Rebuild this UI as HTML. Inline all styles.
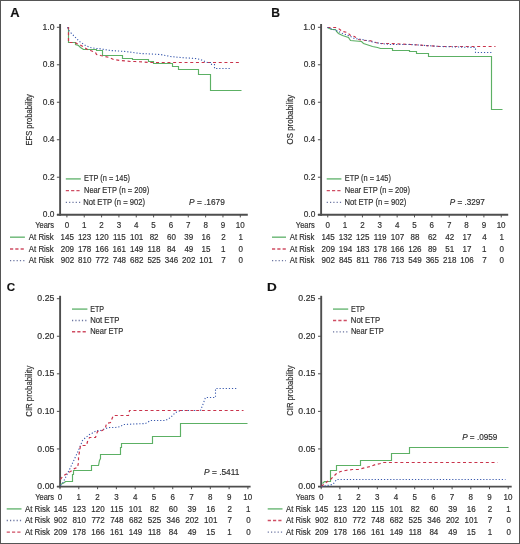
<!DOCTYPE html>
<html><head><meta charset="utf-8"><style>
html,body{margin:0;padding:0;background:#fff;}
body{width:520px;height:544px;overflow:hidden;}
svg{display:block;}
svg{will-change:transform;}
text{font-family:"Liberation Sans",sans-serif;stroke:#303030;stroke-width:0.18px;}
</style></head><body>
<svg width="520" height="544" viewBox="0 0 520 544">
<rect x="0" y="0" width="520" height="544" fill="#fff"/>
<text x="10.29" y="16.50" font-size="12" textLength="9.35" lengthAdjust="spacingAndGlyphs" fill="#111" font-weight="bold">A</text>
<line x1="60.10" y1="24.00" x2="60.10" y2="215.75" stroke="#4e4e4e" stroke-width="1.9"/>
<line x1="56.90" y1="214.80" x2="247.80" y2="214.80" stroke="#4e4e4e" stroke-width="1.9"/>
<line x1="56.90" y1="27.30" x2="60.10" y2="27.30" stroke="#4e4e4e" stroke-width="1"/>
<text x="42.54" y="29.90" font-size="8.4" textLength="11.98" lengthAdjust="spacingAndGlyphs" fill="#303030">1.0</text>
<line x1="56.90" y1="64.78" x2="60.10" y2="64.78" stroke="#4e4e4e" stroke-width="1"/>
<text x="42.87" y="67.38" font-size="8.4" textLength="11.69" lengthAdjust="spacingAndGlyphs" fill="#303030">0.8</text>
<line x1="56.90" y1="102.26" x2="60.10" y2="102.26" stroke="#4e4e4e" stroke-width="1"/>
<text x="42.87" y="104.86" font-size="8.4" textLength="11.69" lengthAdjust="spacingAndGlyphs" fill="#303030">0.6</text>
<line x1="56.90" y1="139.74" x2="60.10" y2="139.74" stroke="#4e4e4e" stroke-width="1"/>
<text x="42.88" y="142.34" font-size="8.4" textLength="11.57" lengthAdjust="spacingAndGlyphs" fill="#303030">0.4</text>
<line x1="56.90" y1="177.22" x2="60.10" y2="177.22" stroke="#4e4e4e" stroke-width="1"/>
<text x="42.87" y="179.82" font-size="8.4" textLength="11.75" lengthAdjust="spacingAndGlyphs" fill="#303030">0.2</text>
<line x1="56.90" y1="214.70" x2="60.10" y2="214.70" stroke="#4e4e4e" stroke-width="1"/>
<text x="42.87" y="217.30" font-size="8.4" textLength="11.65" lengthAdjust="spacingAndGlyphs" fill="#303030">0.0</text>
<line x1="66.90" y1="214.80" x2="66.90" y2="217.40" stroke="#4e4e4e" stroke-width="1"/>
<text x="64.67" y="227.60" font-size="8.4" textLength="4.46" lengthAdjust="spacingAndGlyphs" fill="#303030">0</text>
<line x1="84.24" y1="214.80" x2="84.24" y2="217.40" stroke="#4e4e4e" stroke-width="1"/>
<text x="81.90" y="227.60" font-size="8.4" textLength="4.46" lengthAdjust="spacingAndGlyphs" fill="#303030">1</text>
<line x1="101.58" y1="214.80" x2="101.58" y2="217.40" stroke="#4e4e4e" stroke-width="1"/>
<text x="99.35" y="227.60" font-size="8.4" textLength="4.46" lengthAdjust="spacingAndGlyphs" fill="#303030">2</text>
<line x1="118.92" y1="214.80" x2="118.92" y2="217.40" stroke="#4e4e4e" stroke-width="1"/>
<text x="116.71" y="227.60" font-size="8.4" textLength="4.46" lengthAdjust="spacingAndGlyphs" fill="#303030">3</text>
<line x1="136.26" y1="214.80" x2="136.26" y2="217.40" stroke="#4e4e4e" stroke-width="1"/>
<text x="134.06" y="227.60" font-size="8.4" textLength="4.46" lengthAdjust="spacingAndGlyphs" fill="#303030">4</text>
<line x1="153.60" y1="214.80" x2="153.60" y2="217.40" stroke="#4e4e4e" stroke-width="1"/>
<text x="151.37" y="227.60" font-size="8.4" textLength="4.46" lengthAdjust="spacingAndGlyphs" fill="#303030">5</text>
<line x1="170.94" y1="214.80" x2="170.94" y2="217.40" stroke="#4e4e4e" stroke-width="1"/>
<text x="168.68" y="227.60" font-size="8.4" textLength="4.46" lengthAdjust="spacingAndGlyphs" fill="#303030">6</text>
<line x1="188.28" y1="214.80" x2="188.28" y2="217.40" stroke="#4e4e4e" stroke-width="1"/>
<text x="186.05" y="227.60" font-size="8.4" textLength="4.46" lengthAdjust="spacingAndGlyphs" fill="#303030">7</text>
<line x1="205.62" y1="214.80" x2="205.62" y2="217.40" stroke="#4e4e4e" stroke-width="1"/>
<text x="203.39" y="227.60" font-size="8.4" textLength="4.46" lengthAdjust="spacingAndGlyphs" fill="#303030">8</text>
<line x1="222.96" y1="214.80" x2="222.96" y2="217.40" stroke="#4e4e4e" stroke-width="1"/>
<text x="220.73" y="227.60" font-size="8.4" textLength="4.46" lengthAdjust="spacingAndGlyphs" fill="#303030">9</text>
<line x1="240.30" y1="214.80" x2="240.30" y2="217.40" stroke="#4e4e4e" stroke-width="1"/>
<text x="235.69" y="227.60" font-size="8.4" textLength="8.92" lengthAdjust="spacingAndGlyphs" fill="#303030">10</text>
<text x="35.24" y="227.60" font-size="8.4" textLength="18.83" lengthAdjust="spacingAndGlyphs" fill="#303030">Years</text>
<line x1="10.00" y1="237.20" x2="24.90" y2="237.20" stroke="#72bb7c" stroke-width="1.5" fill="none"/>
<text x="28.78" y="239.80" font-size="8.4" textLength="25.00" lengthAdjust="spacingAndGlyphs" fill="#303030">At Risk</text>
<text x="60.57" y="239.80" font-size="8.4" textLength="13.38" lengthAdjust="spacingAndGlyphs" fill="#303030">145</text>
<text x="77.92" y="239.80" font-size="8.4" textLength="13.38" lengthAdjust="spacingAndGlyphs" fill="#303030">123</text>
<text x="95.24" y="239.80" font-size="8.4" textLength="13.38" lengthAdjust="spacingAndGlyphs" fill="#303030">120</text>
<text x="112.89" y="239.80" font-size="8.4" textLength="12.79" lengthAdjust="spacingAndGlyphs" fill="#303030">115</text>
<text x="129.96" y="239.80" font-size="8.4" textLength="13.38" lengthAdjust="spacingAndGlyphs" fill="#303030">101</text>
<text x="149.67" y="239.80" font-size="8.4" textLength="8.92" lengthAdjust="spacingAndGlyphs" fill="#303030">82</text>
<text x="166.93" y="239.80" font-size="8.4" textLength="8.92" lengthAdjust="spacingAndGlyphs" fill="#303030">60</text>
<text x="184.36" y="239.80" font-size="8.4" textLength="8.92" lengthAdjust="spacingAndGlyphs" fill="#303030">39</text>
<text x="201.53" y="239.80" font-size="8.4" textLength="8.92" lengthAdjust="spacingAndGlyphs" fill="#303030">16</text>
<text x="221.23" y="239.80" font-size="8.4" textLength="4.46" lengthAdjust="spacingAndGlyphs" fill="#303030">2</text>
<text x="238.46" y="239.80" font-size="8.4" textLength="4.46" lengthAdjust="spacingAndGlyphs" fill="#303030">1</text>
<line x1="10.00" y1="249.00" x2="24.90" y2="249.00" stroke="#cf4d63" stroke-width="1.4" fill="none" stroke-dasharray="3.2 2.1"/>
<text x="28.78" y="251.60" font-size="8.4" textLength="25.00" lengthAdjust="spacingAndGlyphs" fill="#303030">At Risk</text>
<text x="60.70" y="251.60" font-size="8.4" textLength="13.38" lengthAdjust="spacingAndGlyphs" fill="#303030">209</text>
<text x="77.92" y="251.60" font-size="8.4" textLength="13.38" lengthAdjust="spacingAndGlyphs" fill="#303030">178</text>
<text x="95.26" y="251.60" font-size="8.4" textLength="13.38" lengthAdjust="spacingAndGlyphs" fill="#303030">166</text>
<text x="112.62" y="251.60" font-size="8.4" textLength="13.38" lengthAdjust="spacingAndGlyphs" fill="#303030">161</text>
<text x="129.95" y="251.60" font-size="8.4" textLength="13.38" lengthAdjust="spacingAndGlyphs" fill="#303030">149</text>
<text x="147.57" y="251.60" font-size="8.4" textLength="12.79" lengthAdjust="spacingAndGlyphs" fill="#303030">118</text>
<text x="166.92" y="251.60" font-size="8.4" textLength="8.92" lengthAdjust="spacingAndGlyphs" fill="#303030">84</text>
<text x="184.42" y="251.60" font-size="8.4" textLength="8.92" lengthAdjust="spacingAndGlyphs" fill="#303030">49</text>
<text x="201.52" y="251.60" font-size="8.4" textLength="8.92" lengthAdjust="spacingAndGlyphs" fill="#303030">15</text>
<text x="221.12" y="251.60" font-size="8.4" textLength="4.46" lengthAdjust="spacingAndGlyphs" fill="#303030">1</text>
<text x="238.57" y="251.60" font-size="8.4" textLength="4.46" lengthAdjust="spacingAndGlyphs" fill="#303030">0</text>
<line x1="10.00" y1="260.70" x2="24.90" y2="260.70" stroke="#6a74a0" stroke-width="1.3" fill="none" stroke-dasharray="1.2 2.1"/>
<text x="28.78" y="263.30" font-size="8.4" textLength="25.00" lengthAdjust="spacingAndGlyphs" fill="#303030">At Risk</text>
<text x="60.73" y="263.30" font-size="8.4" textLength="13.38" lengthAdjust="spacingAndGlyphs" fill="#303030">902</text>
<text x="78.03" y="263.30" font-size="8.4" textLength="13.38" lengthAdjust="spacingAndGlyphs" fill="#303030">810</text>
<text x="95.39" y="263.30" font-size="8.4" textLength="13.38" lengthAdjust="spacingAndGlyphs" fill="#303030">772</text>
<text x="112.70" y="263.30" font-size="8.4" textLength="13.38" lengthAdjust="spacingAndGlyphs" fill="#303030">748</text>
<text x="130.07" y="263.30" font-size="8.4" textLength="13.38" lengthAdjust="spacingAndGlyphs" fill="#303030">682</text>
<text x="147.41" y="263.30" font-size="8.4" textLength="13.38" lengthAdjust="spacingAndGlyphs" fill="#303030">525</text>
<text x="164.77" y="263.30" font-size="8.4" textLength="13.38" lengthAdjust="spacingAndGlyphs" fill="#303030">346</text>
<text x="182.09" y="263.30" font-size="8.4" textLength="13.38" lengthAdjust="spacingAndGlyphs" fill="#303030">202</text>
<text x="199.32" y="263.30" font-size="8.4" textLength="13.38" lengthAdjust="spacingAndGlyphs" fill="#303030">101</text>
<text x="221.23" y="263.30" font-size="8.4" textLength="4.46" lengthAdjust="spacingAndGlyphs" fill="#303030">7</text>
<text x="238.57" y="263.30" font-size="8.4" textLength="4.46" lengthAdjust="spacingAndGlyphs" fill="#303030">0</text>
<g transform="translate(32.40,119.50) rotate(-90)">
<text x="-25.97" y="0.00" font-size="8.4" textLength="51.33" lengthAdjust="spacingAndGlyphs" fill="#303030">EFS probability</text>
</g>
<line x1="65.80" y1="178.90" x2="80.80" y2="178.90" stroke="#72bb7c" stroke-width="1.5" fill="none"/>
<text x="83.99" y="181.40" font-size="8.4" textLength="46.06" lengthAdjust="spacingAndGlyphs" fill="#303030">ETP (n = 145)</text>
<line x1="65.80" y1="190.60" x2="80.80" y2="190.60" stroke="#cf4d63" stroke-width="1.4" fill="none" stroke-dasharray="3.2 2.1"/>
<text x="83.98" y="193.10" font-size="8.4" textLength="65.28" lengthAdjust="spacingAndGlyphs" fill="#303030">Near ETP (n = 209)</text>
<line x1="65.80" y1="202.30" x2="80.80" y2="202.30" stroke="#6a74a0" stroke-width="1.3" fill="none" stroke-dasharray="1.2 2.1"/>
<text x="83.27" y="204.80" font-size="8.4" textLength="61.80" lengthAdjust="spacingAndGlyphs" fill="#303030">Not ETP (n = 902)</text>
<text x="189.12" y="205.00" font-size="8.4" fill="#303030" textLength="35.67" lengthAdjust="spacingAndGlyphs"><tspan font-style="italic">P</tspan> = .1679</text>
<path d="M67.50,27.50 L68.50,27.50 L68.50,42.50 L75.50,42.50 L75.50,44.50 L78.50,45.50 L80.50,47.50 L83.50,49.50 L96.50,49.50 L96.50,50.50 L102.50,50.50 L102.50,55.50 L122.50,55.50 L122.50,58.50 L132.50,58.50 L132.50,59.50 L148.50,59.50 L148.50,61.50 L153.50,61.50 L153.50,63.50 L172.50,63.50 L172.50,66.50 L178.50,66.50 L178.50,69.50 L198.50,69.50 L198.50,74.50 L210.50,74.50 L210.50,90.50 L241.50,90.50" stroke="#5cb064" stroke-width="1.15" fill="none"/>
<path d="M67.50,27.50 L68.50,27.50 L68.50,42.50 L75.50,42.50 L76.50,43.50 L79.50,44.50 L84.50,47.50 L87.50,49.50 L90.50,50.50 L95.50,52.50 L96.50,54.50 L100.50,55.50 L109.50,57.50 L113.50,59.50 L120.50,60.50 L130.50,61.50 L135.50,61.50 L150.50,62.50 L240.50,62.50" stroke="#c9334b" stroke-width="1.2" fill="none" stroke-dasharray="3 2.7"/>
<path d="M67.50,27.50 L69.50,31.50 L74.50,36.50 L79.50,41.50 L85.50,45.50 L90.50,47.50 L95.50,48.50 L98.50,48.50 L110.50,50.50 L125.50,51.50 L140.50,53.50 L160.50,54.50 L170.50,56.50 L180.50,57.50 L195.50,58.50 L200.50,59.50 L207.50,62.50 L211.50,62.50 L211.50,64.50 L214.50,64.50 L214.50,68.50 L230.50,68.50" stroke="#3a5aae" stroke-width="1.1" fill="none" stroke-dasharray="1.2 1.9"/>
<text x="271.20" y="16.50" font-size="12" textLength="8.75" lengthAdjust="spacingAndGlyphs" fill="#111" font-weight="bold">B</text>
<line x1="321.10" y1="24.00" x2="321.10" y2="215.75" stroke="#4e4e4e" stroke-width="1.9"/>
<line x1="317.90" y1="214.80" x2="508.20" y2="214.80" stroke="#4e4e4e" stroke-width="1.9"/>
<line x1="317.90" y1="27.30" x2="321.10" y2="27.30" stroke="#4e4e4e" stroke-width="1"/>
<text x="303.34" y="29.90" font-size="8.4" textLength="11.98" lengthAdjust="spacingAndGlyphs" fill="#303030">1.0</text>
<line x1="317.90" y1="64.78" x2="321.10" y2="64.78" stroke="#4e4e4e" stroke-width="1"/>
<text x="303.67" y="67.38" font-size="8.4" textLength="11.69" lengthAdjust="spacingAndGlyphs" fill="#303030">0.8</text>
<line x1="317.90" y1="102.26" x2="321.10" y2="102.26" stroke="#4e4e4e" stroke-width="1"/>
<text x="303.67" y="104.86" font-size="8.4" textLength="11.69" lengthAdjust="spacingAndGlyphs" fill="#303030">0.6</text>
<line x1="317.90" y1="139.74" x2="321.10" y2="139.74" stroke="#4e4e4e" stroke-width="1"/>
<text x="303.68" y="142.34" font-size="8.4" textLength="11.57" lengthAdjust="spacingAndGlyphs" fill="#303030">0.4</text>
<line x1="317.90" y1="177.22" x2="321.10" y2="177.22" stroke="#4e4e4e" stroke-width="1"/>
<text x="303.67" y="179.82" font-size="8.4" textLength="11.75" lengthAdjust="spacingAndGlyphs" fill="#303030">0.2</text>
<line x1="317.90" y1="214.70" x2="321.10" y2="214.70" stroke="#4e4e4e" stroke-width="1"/>
<text x="303.67" y="217.30" font-size="8.4" textLength="11.65" lengthAdjust="spacingAndGlyphs" fill="#303030">0.0</text>
<line x1="327.75" y1="214.80" x2="327.75" y2="217.40" stroke="#4e4e4e" stroke-width="1"/>
<text x="325.52" y="227.60" font-size="8.4" textLength="4.46" lengthAdjust="spacingAndGlyphs" fill="#303030">0</text>
<line x1="345.10" y1="214.80" x2="345.10" y2="217.40" stroke="#4e4e4e" stroke-width="1"/>
<text x="342.76" y="227.60" font-size="8.4" textLength="4.46" lengthAdjust="spacingAndGlyphs" fill="#303030">1</text>
<line x1="362.45" y1="214.80" x2="362.45" y2="217.40" stroke="#4e4e4e" stroke-width="1"/>
<text x="360.22" y="227.60" font-size="8.4" textLength="4.46" lengthAdjust="spacingAndGlyphs" fill="#303030">2</text>
<line x1="379.80" y1="214.80" x2="379.80" y2="217.40" stroke="#4e4e4e" stroke-width="1"/>
<text x="377.59" y="227.60" font-size="8.4" textLength="4.46" lengthAdjust="spacingAndGlyphs" fill="#303030">3</text>
<line x1="397.15" y1="214.80" x2="397.15" y2="217.40" stroke="#4e4e4e" stroke-width="1"/>
<text x="394.95" y="227.60" font-size="8.4" textLength="4.46" lengthAdjust="spacingAndGlyphs" fill="#303030">4</text>
<line x1="414.50" y1="214.80" x2="414.50" y2="217.40" stroke="#4e4e4e" stroke-width="1"/>
<text x="412.27" y="227.60" font-size="8.4" textLength="4.46" lengthAdjust="spacingAndGlyphs" fill="#303030">5</text>
<line x1="431.85" y1="214.80" x2="431.85" y2="217.40" stroke="#4e4e4e" stroke-width="1"/>
<text x="429.59" y="227.60" font-size="8.4" textLength="4.46" lengthAdjust="spacingAndGlyphs" fill="#303030">6</text>
<line x1="449.20" y1="214.80" x2="449.20" y2="217.40" stroke="#4e4e4e" stroke-width="1"/>
<text x="446.97" y="227.60" font-size="8.4" textLength="4.46" lengthAdjust="spacingAndGlyphs" fill="#303030">7</text>
<line x1="466.55" y1="214.80" x2="466.55" y2="217.40" stroke="#4e4e4e" stroke-width="1"/>
<text x="464.32" y="227.60" font-size="8.4" textLength="4.46" lengthAdjust="spacingAndGlyphs" fill="#303030">8</text>
<line x1="483.90" y1="214.80" x2="483.90" y2="217.40" stroke="#4e4e4e" stroke-width="1"/>
<text x="481.67" y="227.60" font-size="8.4" textLength="4.46" lengthAdjust="spacingAndGlyphs" fill="#303030">9</text>
<line x1="501.25" y1="214.80" x2="501.25" y2="217.40" stroke="#4e4e4e" stroke-width="1"/>
<text x="496.64" y="227.60" font-size="8.4" textLength="8.92" lengthAdjust="spacingAndGlyphs" fill="#303030">10</text>
<text x="295.84" y="227.60" font-size="8.4" textLength="18.83" lengthAdjust="spacingAndGlyphs" fill="#303030">Years</text>
<line x1="272.00" y1="237.20" x2="286.00" y2="237.20" stroke="#72bb7c" stroke-width="1.5" fill="none"/>
<text x="289.78" y="239.80" font-size="8.4" textLength="24.60" lengthAdjust="spacingAndGlyphs" fill="#303030">At Risk</text>
<text x="321.42" y="239.80" font-size="8.4" textLength="13.38" lengthAdjust="spacingAndGlyphs" fill="#303030">145</text>
<text x="338.81" y="239.80" font-size="8.4" textLength="13.38" lengthAdjust="spacingAndGlyphs" fill="#303030">132</text>
<text x="356.12" y="239.80" font-size="8.4" textLength="13.38" lengthAdjust="spacingAndGlyphs" fill="#303030">125</text>
<text x="373.79" y="239.80" font-size="8.4" textLength="12.79" lengthAdjust="spacingAndGlyphs" fill="#303030">119</text>
<text x="390.86" y="239.80" font-size="8.4" textLength="13.38" lengthAdjust="spacingAndGlyphs" fill="#303030">107</text>
<text x="410.54" y="239.80" font-size="8.4" textLength="8.92" lengthAdjust="spacingAndGlyphs" fill="#303030">88</text>
<text x="427.89" y="239.80" font-size="8.4" textLength="8.92" lengthAdjust="spacingAndGlyphs" fill="#303030">62</text>
<text x="445.35" y="239.80" font-size="8.4" textLength="8.92" lengthAdjust="spacingAndGlyphs" fill="#303030">42</text>
<text x="462.49" y="239.80" font-size="8.4" textLength="8.92" lengthAdjust="spacingAndGlyphs" fill="#303030">17</text>
<text x="482.20" y="239.80" font-size="8.4" textLength="4.46" lengthAdjust="spacingAndGlyphs" fill="#303030">4</text>
<text x="499.41" y="239.80" font-size="8.4" textLength="4.46" lengthAdjust="spacingAndGlyphs" fill="#303030">1</text>
<line x1="272.00" y1="249.00" x2="286.00" y2="249.00" stroke="#cf4d63" stroke-width="1.4" fill="none" stroke-dasharray="3.2 2.1"/>
<text x="289.78" y="251.60" font-size="8.4" textLength="24.60" lengthAdjust="spacingAndGlyphs" fill="#303030">At Risk</text>
<text x="321.55" y="251.60" font-size="8.4" textLength="13.38" lengthAdjust="spacingAndGlyphs" fill="#303030">209</text>
<text x="338.72" y="251.60" font-size="8.4" textLength="13.38" lengthAdjust="spacingAndGlyphs" fill="#303030">194</text>
<text x="356.13" y="251.60" font-size="8.4" textLength="13.38" lengthAdjust="spacingAndGlyphs" fill="#303030">183</text>
<text x="373.48" y="251.60" font-size="8.4" textLength="13.38" lengthAdjust="spacingAndGlyphs" fill="#303030">178</text>
<text x="390.83" y="251.60" font-size="8.4" textLength="13.38" lengthAdjust="spacingAndGlyphs" fill="#303030">166</text>
<text x="408.18" y="251.60" font-size="8.4" textLength="13.38" lengthAdjust="spacingAndGlyphs" fill="#303030">126</text>
<text x="427.91" y="251.60" font-size="8.4" textLength="8.92" lengthAdjust="spacingAndGlyphs" fill="#303030">89</text>
<text x="445.27" y="251.60" font-size="8.4" textLength="8.92" lengthAdjust="spacingAndGlyphs" fill="#303030">51</text>
<text x="462.49" y="251.60" font-size="8.4" textLength="8.92" lengthAdjust="spacingAndGlyphs" fill="#303030">17</text>
<text x="482.06" y="251.60" font-size="8.4" textLength="4.46" lengthAdjust="spacingAndGlyphs" fill="#303030">1</text>
<text x="499.52" y="251.60" font-size="8.4" textLength="4.46" lengthAdjust="spacingAndGlyphs" fill="#303030">0</text>
<line x1="272.00" y1="260.70" x2="286.00" y2="260.70" stroke="#6a74a0" stroke-width="1.3" fill="none" stroke-dasharray="1.2 2.1"/>
<text x="289.78" y="263.30" font-size="8.4" textLength="24.60" lengthAdjust="spacingAndGlyphs" fill="#303030">At Risk</text>
<text x="321.58" y="263.30" font-size="8.4" textLength="13.38" lengthAdjust="spacingAndGlyphs" fill="#303030">902</text>
<text x="338.90" y="263.30" font-size="8.4" textLength="13.38" lengthAdjust="spacingAndGlyphs" fill="#303030">845</text>
<text x="356.58" y="263.30" font-size="8.4" textLength="12.79" lengthAdjust="spacingAndGlyphs" fill="#303030">811</text>
<text x="373.58" y="263.30" font-size="8.4" textLength="13.38" lengthAdjust="spacingAndGlyphs" fill="#303030">786</text>
<text x="390.93" y="263.30" font-size="8.4" textLength="13.38" lengthAdjust="spacingAndGlyphs" fill="#303030">713</text>
<text x="408.34" y="263.30" font-size="8.4" textLength="13.38" lengthAdjust="spacingAndGlyphs" fill="#303030">549</text>
<text x="425.67" y="263.30" font-size="8.4" textLength="13.38" lengthAdjust="spacingAndGlyphs" fill="#303030">365</text>
<text x="442.98" y="263.30" font-size="8.4" textLength="13.38" lengthAdjust="spacingAndGlyphs" fill="#303030">218</text>
<text x="460.23" y="263.30" font-size="8.4" textLength="13.38" lengthAdjust="spacingAndGlyphs" fill="#303030">106</text>
<text x="482.17" y="263.30" font-size="8.4" textLength="4.46" lengthAdjust="spacingAndGlyphs" fill="#303030">7</text>
<text x="499.52" y="263.30" font-size="8.4" textLength="4.46" lengthAdjust="spacingAndGlyphs" fill="#303030">0</text>
<g transform="translate(292.60,119.40) rotate(-90)">
<text x="-25.02" y="0.00" font-size="8.4" textLength="49.69" lengthAdjust="spacingAndGlyphs" fill="#303030">OS probability</text>
</g>
<line x1="326.70" y1="178.90" x2="341.40" y2="178.90" stroke="#72bb7c" stroke-width="1.5" fill="none"/>
<text x="344.79" y="181.40" font-size="8.4" textLength="46.06" lengthAdjust="spacingAndGlyphs" fill="#303030">ETP (n = 145)</text>
<line x1="326.70" y1="190.60" x2="341.40" y2="190.60" stroke="#cf4d63" stroke-width="1.4" fill="none" stroke-dasharray="3.2 2.1"/>
<text x="344.78" y="193.10" font-size="8.4" textLength="65.28" lengthAdjust="spacingAndGlyphs" fill="#303030">Near ETP (n = 209)</text>
<line x1="326.70" y1="202.30" x2="341.40" y2="202.30" stroke="#6a74a0" stroke-width="1.3" fill="none" stroke-dasharray="1.2 2.1"/>
<text x="344.47" y="204.80" font-size="8.4" textLength="61.80" lengthAdjust="spacingAndGlyphs" fill="#303030">Not ETP (n = 902)</text>
<text x="449.83" y="204.50" font-size="8.4" fill="#303030" textLength="35.08" lengthAdjust="spacingAndGlyphs"><tspan font-style="italic">P</tspan> = .3297</text>
<path d="M327.50,27.50 L331.50,29.50 L335.50,29.50 L336.50,31.50 L338.50,33.50 L342.50,35.50 L345.50,36.50 L348.50,37.50 L350.50,40.50 L361.50,41.50 L363.50,43.50 L366.50,44.50 L372.50,46.50 L377.50,47.50 L380.50,48.50 L392.50,48.50 L392.50,50.50 L409.50,50.50 L409.50,51.50 L416.50,51.50 L416.50,53.50 L428.50,53.50 L428.50,56.50 L491.50,56.50 L491.50,109.50 L502.50,109.50" stroke="#5cb064" stroke-width="1.15" fill="none"/>
<path d="M327.50,27.50 L335.50,27.50 L338.50,28.50 L342.50,31.50 L347.50,32.50 L350.50,35.50 L354.50,36.50 L358.50,39.50 L365.50,40.50 L369.50,40.50 L375.50,42.50 L380.50,43.50 L385.50,43.50 L390.50,43.50 L410.50,44.50 L440.50,46.50 L447.50,46.50 L495.50,46.50" stroke="#c9334b" stroke-width="1.2" fill="none" stroke-dasharray="3 2.7"/>
<path d="M327.50,27.50 L333.50,29.50 L338.50,31.50 L342.50,33.50 L345.50,34.50 L350.50,36.50 L354.50,38.50 L362.50,39.50 L370.50,41.50 L380.50,43.50 L390.50,44.50 L410.50,44.50 L440.50,46.50 L475.50,47.50 L475.50,52.50 L491.50,52.50" stroke="#3a5aae" stroke-width="1.1" fill="none" stroke-dasharray="1.2 1.9"/>
<text x="6.72" y="290.80" font-size="10.6" textLength="8.39" lengthAdjust="spacingAndGlyphs" fill="#111" font-weight="bold">C</text>
<line x1="60.10" y1="295.80" x2="60.10" y2="487.55" stroke="#4e4e4e" stroke-width="1.9"/>
<line x1="56.90" y1="486.60" x2="250.60" y2="486.60" stroke="#4e4e4e" stroke-width="1.9"/>
<line x1="56.90" y1="298.70" x2="60.10" y2="298.70" stroke="#4e4e4e" stroke-width="1"/>
<text x="37.36" y="301.30" font-size="8.4" textLength="17.00" lengthAdjust="spacingAndGlyphs" fill="#303030">0.25</text>
<line x1="56.90" y1="336.26" x2="60.10" y2="336.26" stroke="#4e4e4e" stroke-width="1"/>
<text x="37.36" y="338.86" font-size="8.4" textLength="16.97" lengthAdjust="spacingAndGlyphs" fill="#303030">0.20</text>
<line x1="56.90" y1="373.82" x2="60.10" y2="373.82" stroke="#4e4e4e" stroke-width="1"/>
<text x="37.36" y="376.42" font-size="8.4" textLength="17.00" lengthAdjust="spacingAndGlyphs" fill="#303030">0.15</text>
<line x1="56.90" y1="411.38" x2="60.10" y2="411.38" stroke="#4e4e4e" stroke-width="1"/>
<text x="37.36" y="413.98" font-size="8.4" textLength="16.97" lengthAdjust="spacingAndGlyphs" fill="#303030">0.10</text>
<line x1="56.90" y1="448.94" x2="60.10" y2="448.94" stroke="#4e4e4e" stroke-width="1"/>
<text x="37.36" y="451.54" font-size="8.4" textLength="17.00" lengthAdjust="spacingAndGlyphs" fill="#303030">0.05</text>
<line x1="56.90" y1="486.50" x2="60.10" y2="486.50" stroke="#4e4e4e" stroke-width="1"/>
<text x="37.36" y="489.10" font-size="8.4" textLength="16.97" lengthAdjust="spacingAndGlyphs" fill="#303030">0.00</text>
<line x1="60.00" y1="486.60" x2="60.00" y2="489.20" stroke="#4e4e4e" stroke-width="1"/>
<text x="57.77" y="499.60" font-size="8.4" textLength="4.46" lengthAdjust="spacingAndGlyphs" fill="#303030">0</text>
<line x1="78.79" y1="486.60" x2="78.79" y2="489.20" stroke="#4e4e4e" stroke-width="1"/>
<text x="76.45" y="499.60" font-size="8.4" textLength="4.46" lengthAdjust="spacingAndGlyphs" fill="#303030">1</text>
<line x1="97.58" y1="486.60" x2="97.58" y2="489.20" stroke="#4e4e4e" stroke-width="1"/>
<text x="95.35" y="499.60" font-size="8.4" textLength="4.46" lengthAdjust="spacingAndGlyphs" fill="#303030">2</text>
<line x1="116.37" y1="486.60" x2="116.37" y2="489.20" stroke="#4e4e4e" stroke-width="1"/>
<text x="114.16" y="499.60" font-size="8.4" textLength="4.46" lengthAdjust="spacingAndGlyphs" fill="#303030">3</text>
<line x1="135.16" y1="486.60" x2="135.16" y2="489.20" stroke="#4e4e4e" stroke-width="1"/>
<text x="132.96" y="499.60" font-size="8.4" textLength="4.46" lengthAdjust="spacingAndGlyphs" fill="#303030">4</text>
<line x1="153.95" y1="486.60" x2="153.95" y2="489.20" stroke="#4e4e4e" stroke-width="1"/>
<text x="151.72" y="499.60" font-size="8.4" textLength="4.46" lengthAdjust="spacingAndGlyphs" fill="#303030">5</text>
<line x1="172.74" y1="486.60" x2="172.74" y2="489.20" stroke="#4e4e4e" stroke-width="1"/>
<text x="170.48" y="499.60" font-size="8.4" textLength="4.46" lengthAdjust="spacingAndGlyphs" fill="#303030">6</text>
<line x1="191.53" y1="486.60" x2="191.53" y2="489.20" stroke="#4e4e4e" stroke-width="1"/>
<text x="189.30" y="499.60" font-size="8.4" textLength="4.46" lengthAdjust="spacingAndGlyphs" fill="#303030">7</text>
<line x1="210.32" y1="486.60" x2="210.32" y2="489.20" stroke="#4e4e4e" stroke-width="1"/>
<text x="208.09" y="499.60" font-size="8.4" textLength="4.46" lengthAdjust="spacingAndGlyphs" fill="#303030">8</text>
<line x1="229.11" y1="486.60" x2="229.11" y2="489.20" stroke="#4e4e4e" stroke-width="1"/>
<text x="226.88" y="499.60" font-size="8.4" textLength="4.46" lengthAdjust="spacingAndGlyphs" fill="#303030">9</text>
<line x1="247.90" y1="486.60" x2="247.90" y2="489.20" stroke="#4e4e4e" stroke-width="1"/>
<text x="243.29" y="499.60" font-size="8.4" textLength="8.92" lengthAdjust="spacingAndGlyphs" fill="#303030">10</text>
<text x="35.24" y="499.60" font-size="8.4" textLength="18.83" lengthAdjust="spacingAndGlyphs" fill="#303030">Years</text>
<line x1="6.70" y1="508.90" x2="21.50" y2="508.90" stroke="#72bb7c" stroke-width="1.5" fill="none"/>
<text x="24.98" y="511.50" font-size="8.4" textLength="25.00" lengthAdjust="spacingAndGlyphs" fill="#303030">At Risk</text>
<text x="53.67" y="511.50" font-size="8.4" textLength="13.38" lengthAdjust="spacingAndGlyphs" fill="#303030">145</text>
<text x="72.47" y="511.50" font-size="8.4" textLength="13.38" lengthAdjust="spacingAndGlyphs" fill="#303030">123</text>
<text x="91.24" y="511.50" font-size="8.4" textLength="13.38" lengthAdjust="spacingAndGlyphs" fill="#303030">120</text>
<text x="110.34" y="511.50" font-size="8.4" textLength="12.79" lengthAdjust="spacingAndGlyphs" fill="#303030">115</text>
<text x="128.86" y="511.50" font-size="8.4" textLength="13.38" lengthAdjust="spacingAndGlyphs" fill="#303030">101</text>
<text x="150.02" y="511.50" font-size="8.4" textLength="8.92" lengthAdjust="spacingAndGlyphs" fill="#303030">82</text>
<text x="168.73" y="511.50" font-size="8.4" textLength="8.92" lengthAdjust="spacingAndGlyphs" fill="#303030">60</text>
<text x="187.61" y="511.50" font-size="8.4" textLength="8.92" lengthAdjust="spacingAndGlyphs" fill="#303030">39</text>
<text x="206.23" y="511.50" font-size="8.4" textLength="8.92" lengthAdjust="spacingAndGlyphs" fill="#303030">16</text>
<text x="227.38" y="511.50" font-size="8.4" textLength="4.46" lengthAdjust="spacingAndGlyphs" fill="#303030">2</text>
<text x="246.06" y="511.50" font-size="8.4" textLength="4.46" lengthAdjust="spacingAndGlyphs" fill="#303030">1</text>
<line x1="6.70" y1="520.50" x2="21.50" y2="520.50" stroke="#6a74a0" stroke-width="1.3" fill="none" stroke-dasharray="1.2 2.1"/>
<text x="24.98" y="523.10" font-size="8.4" textLength="25.00" lengthAdjust="spacingAndGlyphs" fill="#303030">At Risk</text>
<text x="53.83" y="523.10" font-size="8.4" textLength="13.38" lengthAdjust="spacingAndGlyphs" fill="#303030">902</text>
<text x="72.58" y="523.10" font-size="8.4" textLength="13.38" lengthAdjust="spacingAndGlyphs" fill="#303030">810</text>
<text x="91.39" y="523.10" font-size="8.4" textLength="13.38" lengthAdjust="spacingAndGlyphs" fill="#303030">772</text>
<text x="110.15" y="523.10" font-size="8.4" textLength="13.38" lengthAdjust="spacingAndGlyphs" fill="#303030">748</text>
<text x="128.97" y="523.10" font-size="8.4" textLength="13.38" lengthAdjust="spacingAndGlyphs" fill="#303030">682</text>
<text x="147.76" y="523.10" font-size="8.4" textLength="13.38" lengthAdjust="spacingAndGlyphs" fill="#303030">525</text>
<text x="166.57" y="523.10" font-size="8.4" textLength="13.38" lengthAdjust="spacingAndGlyphs" fill="#303030">346</text>
<text x="185.34" y="523.10" font-size="8.4" textLength="13.38" lengthAdjust="spacingAndGlyphs" fill="#303030">202</text>
<text x="204.02" y="523.10" font-size="8.4" textLength="13.38" lengthAdjust="spacingAndGlyphs" fill="#303030">101</text>
<text x="227.38" y="523.10" font-size="8.4" textLength="4.46" lengthAdjust="spacingAndGlyphs" fill="#303030">7</text>
<text x="246.17" y="523.10" font-size="8.4" textLength="4.46" lengthAdjust="spacingAndGlyphs" fill="#303030">0</text>
<line x1="6.70" y1="532.10" x2="21.50" y2="532.10" stroke="#cf4d63" stroke-width="1.4" fill="none" stroke-dasharray="3.2 2.1"/>
<text x="24.98" y="534.70" font-size="8.4" textLength="25.00" lengthAdjust="spacingAndGlyphs" fill="#303030">At Risk</text>
<text x="53.80" y="534.70" font-size="8.4" textLength="13.38" lengthAdjust="spacingAndGlyphs" fill="#303030">209</text>
<text x="72.47" y="534.70" font-size="8.4" textLength="13.38" lengthAdjust="spacingAndGlyphs" fill="#303030">178</text>
<text x="91.26" y="534.70" font-size="8.4" textLength="13.38" lengthAdjust="spacingAndGlyphs" fill="#303030">166</text>
<text x="110.07" y="534.70" font-size="8.4" textLength="13.38" lengthAdjust="spacingAndGlyphs" fill="#303030">161</text>
<text x="128.85" y="534.70" font-size="8.4" textLength="13.38" lengthAdjust="spacingAndGlyphs" fill="#303030">149</text>
<text x="147.92" y="534.70" font-size="8.4" textLength="12.79" lengthAdjust="spacingAndGlyphs" fill="#303030">118</text>
<text x="168.72" y="534.70" font-size="8.4" textLength="8.92" lengthAdjust="spacingAndGlyphs" fill="#303030">84</text>
<text x="187.67" y="534.70" font-size="8.4" textLength="8.92" lengthAdjust="spacingAndGlyphs" fill="#303030">49</text>
<text x="206.22" y="534.70" font-size="8.4" textLength="8.92" lengthAdjust="spacingAndGlyphs" fill="#303030">15</text>
<text x="227.27" y="534.70" font-size="8.4" textLength="4.46" lengthAdjust="spacingAndGlyphs" fill="#303030">1</text>
<text x="246.17" y="534.70" font-size="8.4" textLength="4.46" lengthAdjust="spacingAndGlyphs" fill="#303030">0</text>
<g transform="translate(31.80,391.00) rotate(-90)">
<text x="-25.69" y="0.00" font-size="8.4" textLength="51.01" lengthAdjust="spacingAndGlyphs" fill="#303030">CIR probability</text>
</g>
<line x1="72.00" y1="309.10" x2="87.40" y2="309.10" stroke="#72bb7c" stroke-width="1.5" fill="none"/>
<text x="90.21" y="311.60" font-size="8.4" textLength="13.96" lengthAdjust="spacingAndGlyphs" fill="#303030">ETP</text>
<line x1="72.00" y1="320.50" x2="87.40" y2="320.50" stroke="#6a74a0" stroke-width="1.3" fill="none" stroke-dasharray="1.2 2.1"/>
<text x="90.17" y="323.00" font-size="8.4" textLength="29.24" lengthAdjust="spacingAndGlyphs" fill="#303030">Not ETP</text>
<line x1="72.00" y1="331.80" x2="87.40" y2="331.80" stroke="#cf4d63" stroke-width="1.4" fill="none" stroke-dasharray="3.2 2.1"/>
<text x="90.18" y="334.30" font-size="8.4" textLength="33.01" lengthAdjust="spacingAndGlyphs" fill="#303030">Near ETP</text>
<text x="204.11" y="474.80" font-size="8.4" fill="#303030" textLength="35.29" lengthAdjust="spacingAndGlyphs"><tspan font-style="italic">P</tspan> = .5411</text>
<path d="M60.50,484.50 L62.50,483.50 L64.50,482.50 L65.50,481.50 L72.50,481.50 L72.50,474.50 L73.50,474.50 L73.50,470.50 L91.50,470.50 L91.50,465.50 L98.50,465.50 L99.50,460.50 L100.50,458.50 L100.50,454.50 L120.50,454.50 L120.50,447.50 L121.50,447.50 L121.50,443.50 L152.50,443.50 L152.50,436.50 L180.50,436.50 L180.50,423.50 L247.50,423.50" stroke="#5cb064" stroke-width="1.15" fill="none"/>
<path d="M60.50,485.50 L62.50,483.50 L70.50,467.50 L77.50,452.50 L80.50,445.50 L82.50,440.50 L84.50,438.50 L89.50,434.50 L93.50,432.50 L96.50,430.50 L100.50,430.50 L105.50,428.50 L109.50,427.50 L115.50,427.50 L120.50,426.50 L123.50,424.50 L145.50,423.50 L150.50,420.50 L165.50,420.50 L170.50,417.50 L175.50,412.50 L180.50,410.50 L200.50,410.50 L202.50,405.50 L205.50,397.50 L215.50,397.50 L215.50,388.50 L236.50,388.50" stroke="#3a5aae" stroke-width="1.1" fill="none" stroke-dasharray="1.2 1.9"/>
<path d="M60.50,479.50 L62.50,476.50 L65.50,474.50 L68.50,472.50 L70.50,471.50 L73.50,469.50 L74.50,468.50 L77.50,467.50 L78.50,462.50 L78.50,457.50 L79.50,451.50 L80.50,445.50 L86.50,445.50 L87.50,441.50 L89.50,437.50 L95.50,437.50 L97.50,431.50 L102.50,430.50 L105.50,427.50 L106.50,423.50 L110.50,422.50 L112.50,417.50 L113.50,415.50 L128.50,415.50 L129.50,410.50 L243.50,410.50" stroke="#c9334b" stroke-width="1.2" fill="none" stroke-dasharray="3 2.7"/>
<text x="267.11" y="290.80" font-size="10.6" textLength="9.75" lengthAdjust="spacingAndGlyphs" fill="#111" font-weight="bold">D</text>
<line x1="321.20" y1="295.80" x2="321.20" y2="487.55" stroke="#4e4e4e" stroke-width="1.9"/>
<line x1="318.00" y1="486.60" x2="511.70" y2="486.60" stroke="#4e4e4e" stroke-width="1.9"/>
<line x1="318.00" y1="298.70" x2="321.20" y2="298.70" stroke="#4e4e4e" stroke-width="1"/>
<text x="298.36" y="301.30" font-size="8.4" textLength="17.00" lengthAdjust="spacingAndGlyphs" fill="#303030">0.25</text>
<line x1="318.00" y1="336.26" x2="321.20" y2="336.26" stroke="#4e4e4e" stroke-width="1"/>
<text x="298.36" y="338.86" font-size="8.4" textLength="16.97" lengthAdjust="spacingAndGlyphs" fill="#303030">0.20</text>
<line x1="318.00" y1="373.82" x2="321.20" y2="373.82" stroke="#4e4e4e" stroke-width="1"/>
<text x="298.36" y="376.42" font-size="8.4" textLength="17.00" lengthAdjust="spacingAndGlyphs" fill="#303030">0.15</text>
<line x1="318.00" y1="411.38" x2="321.20" y2="411.38" stroke="#4e4e4e" stroke-width="1"/>
<text x="298.36" y="413.98" font-size="8.4" textLength="16.97" lengthAdjust="spacingAndGlyphs" fill="#303030">0.10</text>
<line x1="318.00" y1="448.94" x2="321.20" y2="448.94" stroke="#4e4e4e" stroke-width="1"/>
<text x="298.36" y="451.54" font-size="8.4" textLength="17.00" lengthAdjust="spacingAndGlyphs" fill="#303030">0.05</text>
<line x1="318.00" y1="486.50" x2="321.20" y2="486.50" stroke="#4e4e4e" stroke-width="1"/>
<text x="298.36" y="489.10" font-size="8.4" textLength="16.97" lengthAdjust="spacingAndGlyphs" fill="#303030">0.00</text>
<line x1="321.20" y1="486.60" x2="321.20" y2="489.20" stroke="#4e4e4e" stroke-width="1"/>
<text x="318.97" y="499.60" font-size="8.4" textLength="4.46" lengthAdjust="spacingAndGlyphs" fill="#303030">0</text>
<line x1="339.90" y1="486.60" x2="339.90" y2="489.20" stroke="#4e4e4e" stroke-width="1"/>
<text x="337.56" y="499.60" font-size="8.4" textLength="4.46" lengthAdjust="spacingAndGlyphs" fill="#303030">1</text>
<line x1="358.60" y1="486.60" x2="358.60" y2="489.20" stroke="#4e4e4e" stroke-width="1"/>
<text x="356.37" y="499.60" font-size="8.4" textLength="4.46" lengthAdjust="spacingAndGlyphs" fill="#303030">2</text>
<line x1="377.30" y1="486.60" x2="377.30" y2="489.20" stroke="#4e4e4e" stroke-width="1"/>
<text x="375.09" y="499.60" font-size="8.4" textLength="4.46" lengthAdjust="spacingAndGlyphs" fill="#303030">3</text>
<line x1="396.00" y1="486.60" x2="396.00" y2="489.20" stroke="#4e4e4e" stroke-width="1"/>
<text x="393.80" y="499.60" font-size="8.4" textLength="4.46" lengthAdjust="spacingAndGlyphs" fill="#303030">4</text>
<line x1="414.70" y1="486.60" x2="414.70" y2="489.20" stroke="#4e4e4e" stroke-width="1"/>
<text x="412.47" y="499.60" font-size="8.4" textLength="4.46" lengthAdjust="spacingAndGlyphs" fill="#303030">5</text>
<line x1="433.40" y1="486.60" x2="433.40" y2="489.20" stroke="#4e4e4e" stroke-width="1"/>
<text x="431.14" y="499.60" font-size="8.4" textLength="4.46" lengthAdjust="spacingAndGlyphs" fill="#303030">6</text>
<line x1="452.10" y1="486.60" x2="452.10" y2="489.20" stroke="#4e4e4e" stroke-width="1"/>
<text x="449.87" y="499.60" font-size="8.4" textLength="4.46" lengthAdjust="spacingAndGlyphs" fill="#303030">7</text>
<line x1="470.80" y1="486.60" x2="470.80" y2="489.20" stroke="#4e4e4e" stroke-width="1"/>
<text x="468.57" y="499.60" font-size="8.4" textLength="4.46" lengthAdjust="spacingAndGlyphs" fill="#303030">8</text>
<line x1="489.50" y1="486.60" x2="489.50" y2="489.20" stroke="#4e4e4e" stroke-width="1"/>
<text x="487.27" y="499.60" font-size="8.4" textLength="4.46" lengthAdjust="spacingAndGlyphs" fill="#303030">9</text>
<line x1="508.20" y1="486.60" x2="508.20" y2="489.20" stroke="#4e4e4e" stroke-width="1"/>
<text x="503.59" y="499.60" font-size="8.4" textLength="8.92" lengthAdjust="spacingAndGlyphs" fill="#303030">10</text>
<text x="295.84" y="499.60" font-size="8.4" textLength="18.83" lengthAdjust="spacingAndGlyphs" fill="#303030">Years</text>
<line x1="267.70" y1="508.90" x2="282.50" y2="508.90" stroke="#72bb7c" stroke-width="1.5" fill="none"/>
<text x="285.98" y="511.50" font-size="8.4" textLength="24.60" lengthAdjust="spacingAndGlyphs" fill="#303030">At Risk</text>
<text x="314.87" y="511.50" font-size="8.4" textLength="13.38" lengthAdjust="spacingAndGlyphs" fill="#303030">145</text>
<text x="333.58" y="511.50" font-size="8.4" textLength="13.38" lengthAdjust="spacingAndGlyphs" fill="#303030">123</text>
<text x="352.26" y="511.50" font-size="8.4" textLength="13.38" lengthAdjust="spacingAndGlyphs" fill="#303030">120</text>
<text x="371.27" y="511.50" font-size="8.4" textLength="12.79" lengthAdjust="spacingAndGlyphs" fill="#303030">115</text>
<text x="389.70" y="511.50" font-size="8.4" textLength="13.38" lengthAdjust="spacingAndGlyphs" fill="#303030">101</text>
<text x="410.77" y="511.50" font-size="8.4" textLength="8.92" lengthAdjust="spacingAndGlyphs" fill="#303030">82</text>
<text x="429.39" y="511.50" font-size="8.4" textLength="8.92" lengthAdjust="spacingAndGlyphs" fill="#303030">60</text>
<text x="448.18" y="511.50" font-size="8.4" textLength="8.92" lengthAdjust="spacingAndGlyphs" fill="#303030">39</text>
<text x="466.71" y="511.50" font-size="8.4" textLength="8.92" lengthAdjust="spacingAndGlyphs" fill="#303030">16</text>
<text x="487.77" y="511.50" font-size="8.4" textLength="4.46" lengthAdjust="spacingAndGlyphs" fill="#303030">2</text>
<text x="506.36" y="511.50" font-size="8.4" textLength="4.46" lengthAdjust="spacingAndGlyphs" fill="#303030">1</text>
<line x1="267.70" y1="520.50" x2="282.50" y2="520.50" stroke="#cf4d63" stroke-width="1.4" fill="none" stroke-dasharray="3.2 2.1"/>
<text x="285.98" y="523.10" font-size="8.4" textLength="24.60" lengthAdjust="spacingAndGlyphs" fill="#303030">At Risk</text>
<text x="315.03" y="523.10" font-size="8.4" textLength="13.38" lengthAdjust="spacingAndGlyphs" fill="#303030">902</text>
<text x="333.69" y="523.10" font-size="8.4" textLength="13.38" lengthAdjust="spacingAndGlyphs" fill="#303030">810</text>
<text x="352.41" y="523.10" font-size="8.4" textLength="13.38" lengthAdjust="spacingAndGlyphs" fill="#303030">772</text>
<text x="371.08" y="523.10" font-size="8.4" textLength="13.38" lengthAdjust="spacingAndGlyphs" fill="#303030">748</text>
<text x="389.81" y="523.10" font-size="8.4" textLength="13.38" lengthAdjust="spacingAndGlyphs" fill="#303030">682</text>
<text x="408.51" y="523.10" font-size="8.4" textLength="13.38" lengthAdjust="spacingAndGlyphs" fill="#303030">525</text>
<text x="427.23" y="523.10" font-size="8.4" textLength="13.38" lengthAdjust="spacingAndGlyphs" fill="#303030">346</text>
<text x="445.91" y="523.10" font-size="8.4" textLength="13.38" lengthAdjust="spacingAndGlyphs" fill="#303030">202</text>
<text x="464.50" y="523.10" font-size="8.4" textLength="13.38" lengthAdjust="spacingAndGlyphs" fill="#303030">101</text>
<text x="487.77" y="523.10" font-size="8.4" textLength="4.46" lengthAdjust="spacingAndGlyphs" fill="#303030">7</text>
<text x="506.47" y="523.10" font-size="8.4" textLength="4.46" lengthAdjust="spacingAndGlyphs" fill="#303030">0</text>
<line x1="267.70" y1="532.10" x2="282.50" y2="532.10" stroke="#6a74a0" stroke-width="1.3" fill="none" stroke-dasharray="1.2 2.1"/>
<text x="285.98" y="534.70" font-size="8.4" textLength="24.60" lengthAdjust="spacingAndGlyphs" fill="#303030">At Risk</text>
<text x="315.00" y="534.70" font-size="8.4" textLength="13.38" lengthAdjust="spacingAndGlyphs" fill="#303030">209</text>
<text x="333.58" y="534.70" font-size="8.4" textLength="13.38" lengthAdjust="spacingAndGlyphs" fill="#303030">178</text>
<text x="352.28" y="534.70" font-size="8.4" textLength="13.38" lengthAdjust="spacingAndGlyphs" fill="#303030">166</text>
<text x="371.00" y="534.70" font-size="8.4" textLength="13.38" lengthAdjust="spacingAndGlyphs" fill="#303030">161</text>
<text x="389.69" y="534.70" font-size="8.4" textLength="13.38" lengthAdjust="spacingAndGlyphs" fill="#303030">149</text>
<text x="408.67" y="534.70" font-size="8.4" textLength="12.79" lengthAdjust="spacingAndGlyphs" fill="#303030">118</text>
<text x="429.38" y="534.70" font-size="8.4" textLength="8.92" lengthAdjust="spacingAndGlyphs" fill="#303030">84</text>
<text x="448.24" y="534.70" font-size="8.4" textLength="8.92" lengthAdjust="spacingAndGlyphs" fill="#303030">49</text>
<text x="466.70" y="534.70" font-size="8.4" textLength="8.92" lengthAdjust="spacingAndGlyphs" fill="#303030">15</text>
<text x="487.66" y="534.70" font-size="8.4" textLength="4.46" lengthAdjust="spacingAndGlyphs" fill="#303030">1</text>
<text x="506.47" y="534.70" font-size="8.4" textLength="4.46" lengthAdjust="spacingAndGlyphs" fill="#303030">0</text>
<g transform="translate(292.80,390.40) rotate(-90)">
<text x="-25.38" y="0.00" font-size="8.4" textLength="50.40" lengthAdjust="spacingAndGlyphs" fill="#303030">CIR probability</text>
</g>
<line x1="333.00" y1="309.10" x2="348.20" y2="309.10" stroke="#72bb7c" stroke-width="1.5" fill="none"/>
<text x="350.91" y="311.60" font-size="8.4" textLength="13.96" lengthAdjust="spacingAndGlyphs" fill="#303030">ETP</text>
<line x1="333.00" y1="320.50" x2="348.20" y2="320.50" stroke="#cf4d63" stroke-width="1.4" fill="none" stroke-dasharray="3.2 2.1"/>
<text x="350.87" y="323.00" font-size="8.4" textLength="29.24" lengthAdjust="spacingAndGlyphs" fill="#303030">Not ETP</text>
<line x1="333.00" y1="331.80" x2="348.20" y2="331.80" stroke="#6a74a0" stroke-width="1.3" fill="none" stroke-dasharray="1.2 2.1"/>
<text x="350.88" y="334.30" font-size="8.4" textLength="33.01" lengthAdjust="spacingAndGlyphs" fill="#303030">Near ETP</text>
<text x="462.13" y="439.50" font-size="8.4" fill="#303030" textLength="35.26" lengthAdjust="spacingAndGlyphs"><tspan font-style="italic">P</tspan> = .0959</text>
<path d="M322.50,483.50 L324.50,481.50 L330.50,481.50 L330.50,470.50 L336.50,470.50 L336.50,465.50 L360.50,465.50 L360.50,460.50 L391.50,460.50 L391.50,453.50 L409.50,453.50 L409.50,447.50 L508.50,447.50" stroke="#5cb064" stroke-width="1.15" fill="none"/>
<path d="M321.50,486.50 L324.50,483.50 L330.50,479.50 L333.50,476.50 L336.50,473.50 L340.50,471.50 L345.50,470.50 L352.50,469.50 L358.50,469.50 L365.50,467.50 L370.50,466.50 L375.50,464.50 L380.50,463.50 L382.50,462.50 L497.50,462.50" stroke="#c9334b" stroke-width="1.2" fill="none" stroke-dasharray="3 2.7"/>
<path d="M321.50,486.50 L332.50,484.50 L334.50,482.50 L336.50,479.50 L337.50,479.50 L505.50,479.50" stroke="#3a5aae" stroke-width="1.1" fill="none" stroke-dasharray="1.2 1.9"/>
<rect x="0.5" y="0.5" width="519" height="543" fill="none" stroke="#555" stroke-width="1"/>
</svg>
</body></html>
